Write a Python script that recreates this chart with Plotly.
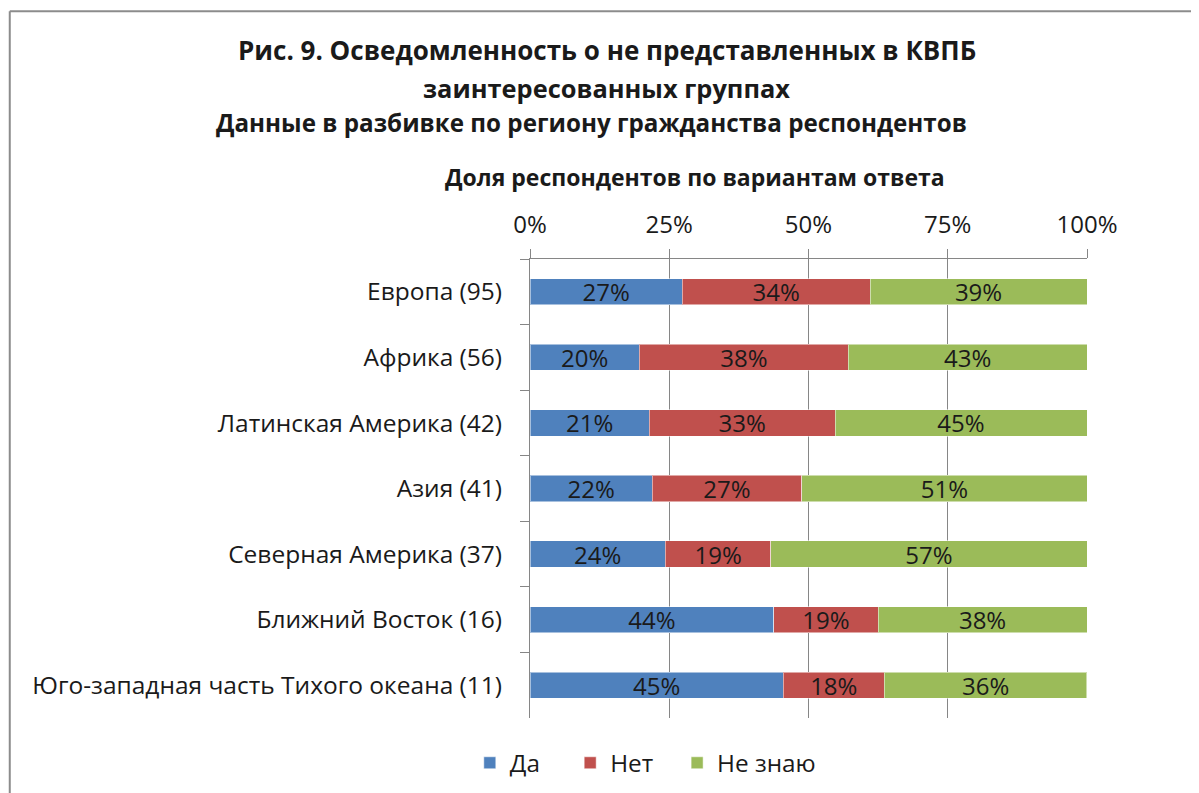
import plotly.graph_objects as go

# Данные (доли респондентов, %)
regions = [
    "Европа (95)",
    "Африка (56)",
    "Латинская Америка (42)",
    "Азия (41)",
    "Северная Америка (37)",
    "Ближний Восток (16)",
    "Юго-западная часть Тихого океана (11)",
]
da = [27.37, 19.64, 21.43, 21.95, 24.32, 43.75, 45.45]
net = [33.68, 37.50, 33.33, 26.83, 18.92, 18.75, 18.18]
ne_znayu = [38.95, 42.86, 45.24, 51.22, 56.76, 37.50, 36.36]

NB = "\u00a0"  # отступы между элементами легенды
series = [("Да" + NB * 4, da, "#4F81BD"), ("Нет" + NB * 3, net, "#C0504D"), ("Не знаю", ne_znayu, "#9BBB59")]

FONT = "Open Sans"
TXT = "#1a1a1a"

fig = go.Figure()
for name, vals, color in series:
    fig.add_trace(go.Bar(
        y=regions, x=vals, name=name, orientation="h",
        marker=dict(color=color, line=dict(color="rgba(255,255,255,0.5)", width=1)),
        texttemplate="%{x:.0f}%", textposition="inside", insidetextanchor="middle",
        constraintext="none",
        textfont=dict(family=FONT, size=24, color=TXT),
        hoverinfo="skip",
    ))

# страница имеет отступ 8px, поэтому поля сдвинуты
fig.update_layout(
    width=1199, height=793,
    barmode="stack", bargap=0.6,
    plot_bgcolor="white", paper_bgcolor="white",
    margin=dict(l=522, r=120, t=251, b=83),
    font=dict(family=FONT, size=24, color=TXT),
    showlegend=True,
    legend=dict(orientation="h", x=0.207, xanchor="center", y=-0.098, yanchor="middle",
                font=dict(family=FONT, size=24.3, color=TXT), traceorder="normal",
                itemwidth=30),
)

fig.update_xaxes(
    range=[0, 100], dtick=25, ticksuffix="%", side="top",
    showgrid=True, gridcolor="#868686", gridwidth=1,
    showline=True, linecolor="#868686", ticks="outside", ticklen=9, tickcolor="#868686",
    tickfont=dict(family=FONT, size=24, color=TXT), zeroline=False,
    ticklabelstandoff=6,
)
fig.update_yaxes(
    autorange="reversed", showline=True, linecolor="#868686",
    ticks="outside", tickson="boundaries", ticklen=9, tickcolor="#868686",
    tickfont=dict(family=FONT, size=24.5, color=TXT),
    ticklabelstandoff=22,
)

# Заголовки
fig.add_annotation(text="<b>Рис. 9. Осведомленность о не представленных в КВПБ</b>",
                   xref="paper", yref="paper", x=0.138, y=1.455, xanchor="center", yanchor="middle",
                   showarrow=False, font=dict(family=FONT, size=26, color=TXT))
fig.add_annotation(text="<b>заинтересованных группах</b>",
                   xref="paper", yref="paper", x=0.138, y=1.373, xanchor="center", yanchor="middle",
                   showarrow=False, font=dict(family=FONT, size=25.4, color=TXT))
fig.add_annotation(text="<b>Данные в разбивке по региону гражданства респондентов</b>",
                   xref="paper", yref="paper", x=0.111, y=1.298, xanchor="center", yanchor="middle",
                   showarrow=False, font=dict(family=FONT, size=24.2, color=TXT))
fig.add_annotation(text="<b>Доля респондентов по вариантам ответа</b>",
                   xref="paper", yref="paper", x=0.296, y=1.179, xanchor="center", yanchor="middle",
                   showarrow=False, font=dict(family=FONT, size=23, color=TXT))

# Рамка диаграммы (левый и верхний край)
fig.add_shape(type="line", xref="paper", yref="paper", x0=-0.934, x1=-0.934, y0=1.540, y1=-0.3,
              line=dict(color="#8c8c8c", width=2))
fig.add_shape(type="line", xref="paper", yref="paper", x0=-0.934, x1=1.3, y0=1.540, y1=1.540,
              line=dict(color="#8c8c8c", width=2))

fig.write_html("out.html")
